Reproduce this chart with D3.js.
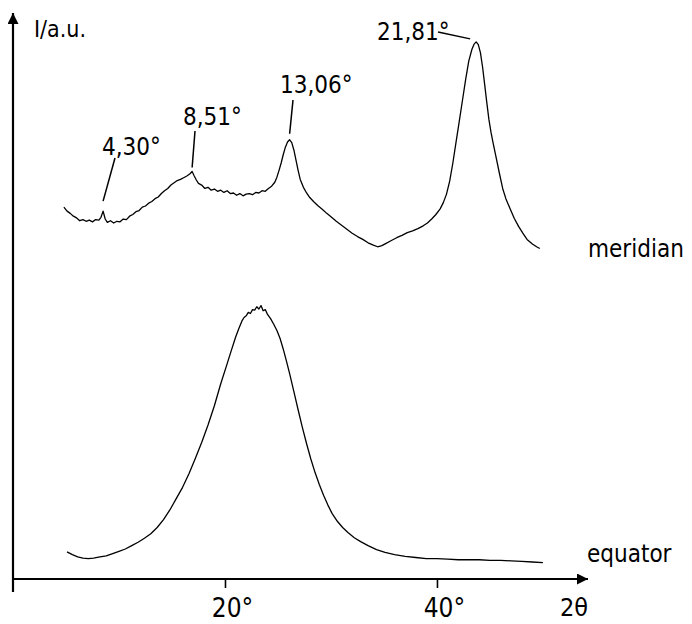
<!DOCTYPE html>
<html>
<head>
<meta charset="utf-8">
<script src="https://cdn.jsdelivr.net/npm/d3@7"></script>
<style>
  body { margin: 0; background: #fff; }
  text { font-family: "DejaVu Sans Condensed", "Liberation Sans Narrow", sans-serif; fill: #000; }
</style>
</head>
<body>
<script>
var w = 692,
  h = 624;

// meridian scan: 2theta (deg) and intensity (a.u.)
var meridianX = [4.8, 5.1, 5.4, 5.7, 6.0, 6.3, 6.6, 6.9, 7.2, 7.5, 7.8, 8.1, 8.3, 8.5, 8.7, 8.9, 9.2, 9.5, 9.8, 10.1, 10.4, 10.7, 11.0, 11.3, 11.6, 11.9, 12.2, 12.5, 12.8, 13.1, 13.4, 13.7, 14.0, 14.3, 14.6, 14.9, 15.2, 15.5, 15.8, 16.1, 16.4, 16.7, 16.9, 17.1, 17.3, 17.5, 17.8, 18.1, 18.4, 18.7, 19.0, 19.3, 19.6, 19.9, 20.2, 20.5, 20.8, 21.1, 21.4, 21.7, 22.0, 22.3, 22.6, 22.9, 23.2, 23.5, 23.8, 24.1, 24.4, 24.7, 24.9, 25.1, 25.3, 25.5, 25.7, 25.9, 26.1, 26.3, 26.5, 26.7, 26.9, 27.1, 27.4, 27.7, 28.0, 28.4, 28.8, 29.2, 29.6, 30.0, 30.5, 31.0, 31.5, 32.0, 32.5, 33.0, 33.5, 34.0, 34.4, 34.8, 35.2, 35.7, 36.2, 36.7, 37.2, 37.7, 38.2, 38.7, 39.1, 39.5, 39.9, 40.3, 40.6, 40.9, 41.2, 41.5, 41.8, 42.1, 42.4, 42.7, 43.0, 43.3, 43.5, 43.7, 43.9, 44.1, 44.3, 44.5, 44.7, 44.9, 45.1, 45.3, 45.6, 45.9, 46.2, 46.5, 46.9, 47.3, 47.7, 48.1, 48.5, 49.0, 49.4, 49.7];
var meridianI = [65.7, 65.0, 64.6, 64.1, 63.8, 63.3, 63.5, 63.2, 63.4, 63.1, 63.5, 63.4, 63.9, 65.0, 63.6, 63.0, 63.3, 62.9, 63.2, 63.1, 63.6, 63.5, 64.1, 64.4, 64.9, 65.1, 65.7, 65.9, 66.4, 66.7, 67.2, 67.5, 68.1, 68.6, 69.0, 69.6, 70.0, 70.4, 70.6, 70.9, 71.2, 71.6, 72.0, 71.2, 70.5, 69.9, 69.6, 69.0, 69.2, 68.7, 68.9, 68.5, 68.7, 68.3, 68.6, 68.1, 68.2, 67.8, 68.1, 67.7, 68.0, 68.1, 67.9, 68.3, 68.2, 68.6, 68.5, 69.0, 69.4, 70.1, 71.0, 72.2, 73.5, 75.0, 76.3, 77.2, 77.6, 77.1, 75.8, 74.0, 72.2, 70.6, 69.2, 68.2, 67.4, 66.6, 65.9, 65.3, 64.6, 64.0, 63.2, 62.5, 61.8, 61.1, 60.5, 60.0, 59.4, 59.0, 58.7, 58.9, 59.3, 59.8, 60.3, 60.7, 61.2, 61.5, 61.9, 62.4, 62.9, 63.6, 64.4, 65.4, 66.5, 68.0, 70.3, 73.5, 77.2, 80.8, 84.5, 88.2, 91.5, 93.6, 94.5, 94.9, 94.4, 93.0, 90.5, 87.4, 84.2, 81.2, 78.9, 77.0, 74.3, 71.6, 69.0, 67.2, 65.4, 63.7, 62.3, 61.1, 60.0, 59.2, 58.7, 58.4];

// equator scan
var equatorX = [5.1, 5.6, 6.1, 6.6, 7.1, 7.6, 8.2, 8.8, 9.4, 10.0, 10.6, 11.2, 11.8, 12.4, 13.0, 13.6, 14.2, 14.8, 15.4, 16.0, 16.6, 17.2, 17.8, 18.4, 19.0, 19.6, 20.2, 20.6, 21.0, 21.3, 21.6, 21.8, 22.0, 22.2, 22.4, 22.6, 22.8, 23.0, 23.2, 23.4, 23.6, 23.8, 24.0, 24.3, 24.6, 24.9, 25.2, 25.5, 25.8, 26.1, 26.5, 26.9, 27.3, 27.7, 28.1, 28.5, 28.9, 29.3, 29.7, 30.1, 30.6, 31.1, 31.6, 32.2, 32.8, 33.5, 34.3, 35.1, 36.0, 37.0, 38.0, 39.0, 40.0, 41.0, 42.0, 43.0, 44.0, 45.0, 46.0, 47.0, 48.0, 49.0, 50.0];
var equatorI = [4.8, 4.3, 3.9, 3.7, 3.6, 3.7, 3.9, 4.1, 4.5, 4.9, 5.3, 5.9, 6.5, 7.2, 8.0, 9.1, 10.5, 12.2, 14.2, 16.2, 18.6, 21.3, 24.1, 27.2, 30.6, 34.5, 38.0, 40.4, 42.7, 44.2, 45.6, 46.2, 46.5, 47.1, 46.9, 47.6, 47.5, 48.1, 47.7, 48.3, 47.4, 47.6, 46.8, 46.0, 45.0, 43.9, 42.5, 40.6, 38.5, 36.3, 33.1, 29.9, 26.8, 23.9, 21.2, 18.8, 16.7, 14.8, 13.1, 11.6, 10.2, 9.1, 8.2, 7.3, 6.6, 5.9, 5.2, 4.7, 4.3, 4.0, 3.8, 3.6, 3.6, 3.5, 3.4, 3.4, 3.4, 3.3, 3.3, 3.2, 3.1, 3.0, 2.9];

// labelled meridian reflections (theta) and their 2theta positions
var peakLabels = ["4,30°", "8,51°", "13,06°", "21,81°"];
var peakPos = [8.5, 16.9, 26.1, 43.7];

var xTicks = [20, 40];

var svg = d3.select("body").append("svg")
  .attr("width", w)
  .attr("height", h);

var xScale = d3.scaleLinear().domain([0, 54.25]).range([13, 588]);
var yScale = d3.scaleLinear().domain([0, 100]).range([579, 13]);

// arrow head
svg.append("defs").append("marker")
  .attr("id", "arrow")
  .attr("viewBox", "0 0 10 10")
  .attr("refX", 10)
  .attr("refY", 5)
  .attr("markerWidth", 9)
  .attr("markerHeight", 5)
  .attr("markerUnits", "strokeWidth")
  .attr("orient", "auto")
  .append("path")
  .attr("d", "M0,0 L10,5 L0,10 Z")
  .attr("fill", "#000");

// x axis
var xAxis = d3.axisBottom(xScale)
  .tickValues(xTicks)
  .tickSize(9)
  .tickSizeOuter(0)
  .tickFormat(d => d + "°");

var gx = svg.append("g")
  .attr("transform", `translate(0, ${yScale(0)})`)
  .call(xAxis);
gx.select(".domain").remove();
gx.selectAll(".tick line").attr("stroke", "#000").attr("stroke-width", 1.6);
gx.selectAll(".tick text")
  .attr("y", 20)
  .attr("dy", "0.71em")
  .attr("dx", 7)
  .style("font-size", "26px")
  .attr("font-family", null);

svg.append("line")
  .attr("x1", 12).attr("x2", xScale.range()[1])
  .attr("y1", yScale(0)).attr("y2", yScale(0))
  .attr("stroke", "#000")
  .attr("stroke-width", 2.2)
  .attr("marker-end", "url(#arrow)");

// y axis
svg.append("line")
  .attr("x1", xScale(0)).attr("x2", xScale(0))
  .attr("y1", yScale(0) + 13).attr("y2", yScale.range()[1])
  .attr("stroke", "#000")
  .attr("stroke-width", 2.2)
  .attr("marker-end", "url(#arrow)");

svg.append("text")
  .attr("x", 34)
  .attr("y", 37)
  .style("font-size", "23px")
  .text("I/a.u.");

svg.append("text")
  .attr("x", 560)
  .attr("y", 616)
  .style("font-size", "25px")
  .text("2θ");

// curves
var line = d3.line()
  .x(d => xScale(d[0]))
  .y(d => yScale(d[1]));

var meridian = d3.zip(meridianX, meridianI);
var equator = d3.zip(equatorX, equatorI);

[meridian, equator].forEach(s => {
  svg.append("path")
    .datum(s)
    .attr("d", line)
    .attr("fill", "none")
    .attr("stroke", "#000")
    .attr("stroke-width", 1.3)
    .attr("stroke-linejoin", "round");
});

svg.append("text")
  .attr("x", 588)
  .attr("y", 257)
  .style("font-size", "24px")
  .text("meridian");

svg.append("text")
  .attr("x", 587)
  .attr("y", 562)
  .style("font-size", "24px")
  .text("equator");

// peak labels with leader lines
// [label x, label baseline, leader start x, leader start y, gap above peak, leader end dx]
var labelLayout = [
  [102, 155, 115, 158, 10, 0],
  [183, 125, 195, 131, 4, 0],
  [280, 93, 293, 100, 6, 0],
  [377, 40, 438, 32, 3, -6]
];

peakPos.forEach((p, i) => {
  var idx = d3.minIndex(meridianX, x => Math.abs(x - p));
  var px = xScale(meridianX[idx]);
  var py = yScale(meridianI[idx]);
  var L = labelLayout[i];
  svg.append("text")
    .attr("x", L[0])
    .attr("y", L[1])
    .style("font-size", "24px")
    .text(peakLabels[i]);
  svg.append("line")
    .attr("x1", L[2]).attr("y1", L[3])
    .attr("x2", px + L[5]).attr("y2", py - L[4])
    .attr("stroke", "#000")
    .attr("stroke-width", 1.5);
});
</script>
</body>
</html>
